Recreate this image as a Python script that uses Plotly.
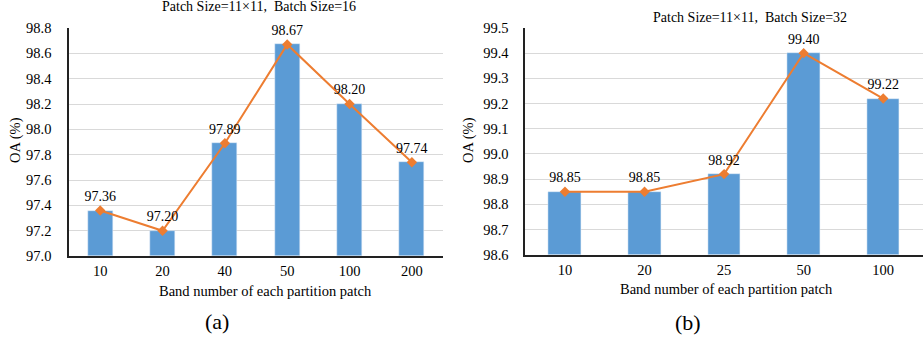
import plotly.graph_objects as go

cats_a = ["10", "20", "40", "50", "100", "200"]
vals_a = [97.36, 97.20, 97.89, 98.67, 98.20, 97.74]
cats_b = ["10", "20", "25", "50", "100"]
vals_b = [98.85, 98.85, 98.92, 99.40, 99.22]
title_a = "Patch Size=11×11,\u2002Batch Size=16"
title_b = "Patch Size=11×11,\u2002Batch Size=32"
xlabel = "Band number of each partition patch"
ylabel = "OA (%)"
ticks_a = [97.0, 97.2, 97.4, 97.6, 97.8, 98.0, 98.2, 98.4, 98.6, 98.8]
ticks_b = [98.6, 98.7, 98.8, 98.9, 99.0, 99.1, 99.2, 99.3, 99.4, 99.5]

BAR = "#5B9BD5"
LINE = "#ED7D31"
FONT = "Liberation Serif"

fig = go.Figure()
fig.add_trace(go.Bar(x=cats_a, y=[v - 97.0 for v in vals_a], base=97.0, marker_color=BAR,
                     width=0.4, xaxis="x", yaxis="y", showlegend=False))
fig.add_trace(go.Scatter(x=cats_a, y=vals_a, mode="lines+markers+text", text=[f"{v:.2f}" for v in vals_a],
                         textposition="top center", textfont=dict(family=FONT, size=14, color="#000"),
                         line=dict(color=LINE, width=2), marker=dict(symbol="diamond", size=8, color=LINE),
                         xaxis="x", yaxis="y", showlegend=False, cliponaxis=False))
fig.add_trace(go.Bar(x=cats_b, y=[v - 98.6 for v in vals_b], base=98.6, marker_color=BAR,
                     width=0.41, xaxis="x2", yaxis="y2", showlegend=False))
fig.add_trace(go.Scatter(x=cats_b, y=vals_b, mode="lines+markers+text", text=[f"{v:.2f}" for v in vals_b],
                         textposition="top center", textfont=dict(family=FONT, size=14, color="#000"),
                         line=dict(color=LINE, width=2), marker=dict(symbol="diamond", size=8, color=LINE),
                         xaxis="x2", yaxis="y2", showlegend=False, cliponaxis=False))

axcommon = dict(tickfont=dict(family=FONT, size=14.5, color="#000"), ticks="", showline=True,
                linecolor="#222", linewidth=1.5, automargin=False)
fig.update_layout(
    width=923, height=341, margin=dict(l=0, r=0, t=0, b=0, autoexpand=False),
    plot_bgcolor="white", paper_bgcolor="white", bargap=0,
    font=dict(family=FONT),
    xaxis=dict(domain=[0.0748, 0.48], anchor="y", type="category", showgrid=False,
               ticklabelstandoff=1, **axcommon),
    yaxis=dict(domain=[0.249, 0.918], anchor="x", range=[97.0, 98.8], tickvals=ticks_a,
               ticktext=[f"{t:.1f}" for t in ticks_a], showgrid=True, gridcolor="#D9D9D9",
               zeroline=False, ticklabelstandoff=13, **axcommon),
    xaxis2=dict(domain=[0.569, 1.0], anchor="y2", type="category", showgrid=False,
                ticklabelstandoff=1, **axcommon),
    yaxis2=dict(domain=[0.253, 0.918], anchor="x2", range=[98.6, 99.5], tickvals=ticks_b,
                ticktext=[f"{t:.1f}" for t in ticks_b], showgrid=True, gridcolor="#D9D9D9",
                zeroline=False, ticklabelstandoff=12, **axcommon),
)

ann = [
    dict(text=title_a, x=259, y=7, size=14),
    dict(text=title_b, x=750, y=18, size=14),
    dict(text=xlabel, x=265, y=291, size=14.5),
    dict(text=xlabel, x=726, y=289, size=14.5),
    dict(text="(a)", x=217, y=321, size=22),
    dict(text="(b)", x=688, y=322, size=22),
]
for a in ann:
    fig.add_annotation(text=a["text"], x=a["x"] / 923, y=1 - a["y"] / 341, xref="paper", yref="paper",
                       showarrow=False, xanchor="center", yanchor="middle",
                       font=dict(family=FONT, size=a["size"], color="#000"))
for x, y in [(15, 140), (468, 140)]:
    fig.add_annotation(text=ylabel, x=x / 923, y=1 - y / 341, xref="paper", yref="paper",
                       showarrow=False, textangle=-90, xanchor="center", yanchor="middle",
                       font=dict(family=FONT, size=14.5, color="#000"))

fig.write_html("out.html", config={"displayModeBar": False},
               post_script="document.body.style.margin='0';document.body.style.overflow='hidden';")
